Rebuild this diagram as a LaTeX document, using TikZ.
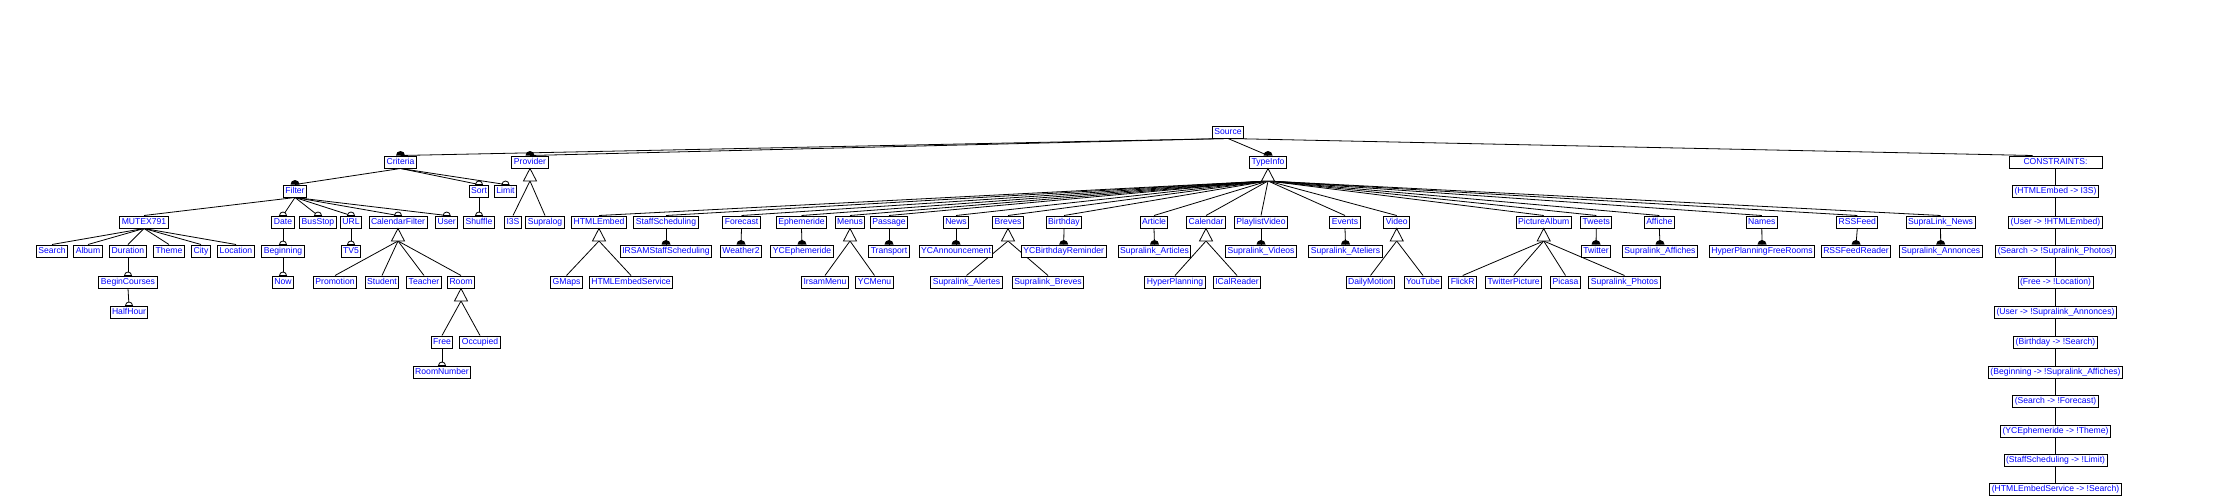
\documentclass[tikz,border=0pt]{standalone}
\usepackage{fontspec}
\setmainfont{Liberation Sans}
\usetikzlibrary{backgrounds}

\begin{document}
\begin{tikzpicture}[
    x=1pt, y=-1pt,
    feat/.style={
      draw, line width=1pt, fill=white, text=blue,
      font=\fontsize{8.6}{10}\selectfont,
      inner xsep=2pt, inner ysep=0pt, minimum height=12pt,
      text height=6.4pt, text depth=1.9pt,
    },
    edge/.style={line width=0.8pt},
    opt/.style={draw=black, fill=white, line width=0.8pt},
    alt/.style={draw=black, fill=white, line width=0.8pt},
  ]
    \useasboundingbox (0,0) rectangle (2218,495);

    % ===== Root and first level =====
    \node[feat] (src) at (1228,132) {Source};
    \node[feat] (crit) at (400.5,162) {Criteria};
    \node[feat] (prov) at (530,162) {Provider};
    \node[feat] (tinfo) at (1268,162) {TypeInfo};
    \node[feat, minimum width=93pt] (cons) at (2055.5,162) {CONSTRAINTS:};

    % ===== Criteria subtree =====
    \node[feat] (filt) at (295,191) {Filter};
    \node[feat] (sort) at (479,191) {Sort};
    \node[feat] (limit) at (505.5,191) {Limit};

    \node[feat] (mutex) at (144,222) {MUTEX791};
    \node[feat] (date) at (283,222) {Date};
    \node[feat] (bus) at (318,222) {BusStop};
    \node[feat] (url) at (351,222) {URL};
    \node[feat] (calf) at (398,222) {CalendarFilter};
    \node[feat] (user) at (446.7,222) {User};
    \node[feat] (shuf) at (479,222) {Shuffle};

    \node[feat] (search) at (52,251) {Search};
    \node[feat] (album) at (88,251) {Album};
    \node[feat] (dur) at (128,251) {Duration};
    \node[feat] (theme) at (169,251) {Theme};
    \node[feat] (city) at (201,251) {City};
    \node[feat] (loc) at (236,251) {Location};
    \node[feat] (begin) at (283,251) {Beginning};
    \node[feat] (tv) at (351,251) {TV5};

    \node[feat] (begc) at (128,282) {BeginCourses};
    \node[feat] (now) at (283,282) {Now};
    \node[feat] (promo) at (335,282) {Promotion};
    \node[feat] (student) at (382,282) {Student};
    \node[feat] (teacher) at (424,282) {Teacher};
    \node[feat] (room) at (461,282) {Room};

    \node[feat] (half) at (129,312) {HalfHour};
    \node[feat] (free) at (442,342) {Free};
    \node[feat] (occ) at (480,342) {Occupied};
    \node[feat] (roomnr) at (442,372) {RoomNumber};

    % ===== Provider subtree =====
    \node[feat] (iss) at (513,222) {I3S};
    \node[feat] (supra) at (545,222) {Supralog};

    % ===== TypeInfo subtree =====
    \node[feat] (html) at (599,222) {HTMLEmbed};
    \node[feat] (staff) at (666,222) {StaffScheduling};
    \node[feat] (fcst) at (741.5,222) {Forecast};
    \node[feat] (ephem) at (801.5,222) {Ephemeride};
    \node[feat] (menus) at (850,222) {Menus};
    \node[feat] (pass) at (889,222) {Passage};
    \node[feat] (news) at (956,222) {News};
    \node[feat] (breves) at (1008,222) {Breves};
    \node[feat] (bday) at (1064,222) {Birthday};
    \node[feat] (art) at (1154,222) {Article};
    \node[feat] (cal) at (1206,222) {Calendar};
    \node[feat] (plv) at (1261,222) {PlaylistVideo};
    \node[feat] (events) at (1345,222) {Events};
    \node[feat] (video) at (1396.7,222) {Video};
    \node[feat] (palb) at (1543.7,222) {PictureAlbum};
    \node[feat] (tweets) at (1596.3,222) {Tweets};
    \node[feat] (aff) at (1659.3,222) {Affiche};
    \node[feat] (names) at (1761.8,222) {Names};
    \node[feat] (rss) at (1857.3,222) {RSSFeed};
    \node[feat] (snews) at (1940.5,222) {SupraLink\_News};

    \node[feat] (irsam) at (666,251) {IRSAMStaffScheduling};
    \node[feat] (weather) at (741,251) {Weather2};
    \node[feat] (yceph) at (802,251) {YCEphemeride};
    \node[feat] (transp) at (889,251) {Transport};
    \node[feat] (ycann) at (956,251) {YCAnnouncement};
    \node[feat] (ycbday) at (1063.7,251) {YCBirthdayReminder};
    \node[feat] (sart) at (1154.5,251) {Supralink\_Articles};
    \node[feat] (svid) at (1261,251) {Supralink\_Videos};
    \node[feat] (satel) at (1345.5,251) {Supralink\_Ateliers};
    \node[feat] (twitter) at (1596,251) {Twitter};
    \node[feat] (saff) at (1660,251) {Supralink\_Affiches};
    \node[feat] (hpfr) at (1762,251) {HyperPlanningFreeRooms};
    \node[feat] (rssr) at (1856,251) {RSSFeedReader};
    \node[feat] (sann) at (1940.7,251) {Supralink\_Annonces};

    \node[feat] (gmaps) at (566.5,282) {GMaps};
    \node[feat] (htmls) at (631,282) {HTMLEmbedService};
    \node[feat] (imenu) at (825,282) {IrsamMenu};
    \node[feat] (ycmenu) at (874.5,282) {YCMenu};
    \node[feat] (salert) at (966.5,282) {Supralink\_Alertes};
    \node[feat] (sbrev) at (1048,282) {Supralink\_Breves};
    \node[feat] (hplan) at (1175,282) {HyperPlanning};
    \node[feat] (ical) at (1237,282) {ICalReader};
    \node[feat] (dmot) at (1370.5,282) {DailyMotion};
    \node[feat] (ytube) at (1423,282) {YouTube};
    \node[feat] (flickr) at (1462.7,282) {FlickR};
    \node[feat] (twpic) at (1513.7,282) {TwitterPicture};
    \node[feat] (picasa) at (1565.5,282) {Picasa};
    \node[feat] (sphot) at (1624.5,282) {Supralink\_Photos};

    % ===== Constraints column =====
    \node[feat] (c1) at (2055.5,191) {(HTMLEmbed -> I3S)};
    \node[feat] (c2) at (2055.5,222) {(User -> !HTMLEmbed)};
    \node[feat] (c3) at (2055.5,251) {(Search -> !Supralink\_Photos)};
    \node[feat] (c4) at (2055.5,282) {(Free -> !Location)};
    \node[feat] (c5) at (2055.5,312) {(User -> !Supralink\_Annonces)};
    \node[feat] (c6) at (2055.5,342) {(Birthday -> !Search)};
    \node[feat] (c7) at (2055.5,372) {(Beginning -> !Supralink\_Affiches)};
    \node[feat] (c8) at (2055.5,401) {(Search -> !Forecast)};
    \node[feat] (c9) at (2055.5,431) {(YCEphemeride -> !Theme)};
    \node[feat] (c10) at (2055.5,460) {(StaffScheduling -> !Limit)};
    \node[feat] (c11) at (2055.5,489) {(HTMLEmbedService -> !Search)};

    % ===== Edges (behind the boxes) =====
    \begin{scope}[on background layer]
      \fill[white] (0,0) rectangle (2218,495);
      % parent bottom -> child top
      \foreach \p/\c in {src/crit, src/prov, src/tinfo,
          crit/filt, crit/sort, crit/limit, sort/shuf,
          filt/mutex, filt/date, filt/bus, filt/url, filt/calf, filt/user,
          mutex/search, mutex/album, mutex/dur, mutex/theme, mutex/city, mutex/loc,
          dur/begc, begc/half, date/begin, begin/now, url/tv, free/roomnr,
          staff/irsam, fcst/weather, ephem/yceph, pass/transp, news/ycann,
          bday/ycbday, art/sart, plv/svid, events/satel, tweets/twitter,
          aff/saff, names/hpfr, rss/rssr, snews/sann,
          cons/c1, c1/c2, c2/c3, c3/c4, c4/c5, c5/c6, c6/c7, c7/c8,
          c8/c9, c9/c10, c10/c11}
        \draw[edge] (\p.south) -- (\c.north);
      \draw[edge] (src.south) -- ([xshift=-23pt]cons.north);
      % alternative groups: from the triangle base
      \foreach \p/\c in {prov/iss, prov/supra,
          calf/promo, calf/student, calf/teacher, calf/room,
          room/free, room/occ,
          tinfo/html, tinfo/staff, tinfo/fcst, tinfo/ephem, tinfo/menus,
          tinfo/pass, tinfo/news, tinfo/breves, tinfo/bday, tinfo/art,
          tinfo/cal, tinfo/plv, tinfo/events, tinfo/video, tinfo/palb,
          tinfo/tweets, tinfo/aff, tinfo/names, tinfo/rss, tinfo/snews,
          html/gmaps, html/htmls, menus/imenu, menus/ycmenu,
          breves/salert, breves/sbrev, cal/hplan, cal/ical,
          video/dmot, video/ytube, palb/flickr, palb/twpic, palb/picasa,
          palb/sphot}
        \draw[edge] ([yshift=-12.5pt]\p.south) -- (\c.north);
    \end{scope}

    % ===== Mandatory (filled) and optional (empty) marks =====
    \foreach \c in {crit, prov, tinfo, filt, irsam, weather, yceph, transp,
        ycann, ycbday, sart, svid, satel, twitter, saff, hpfr, rssr, sann}
      \fill (\c.north) ++(-4.5,0) arc[start angle=180, end angle=0, radius=4.5pt] -- cycle;
    \foreach \c in {sort, limit, shuf, date, bus, url, calf, user,
        begin, now, tv, begc, half, roomnr}
      \filldraw[opt] (\c.north) ++(-3.5,0) arc[start angle=180, end angle=0, radius=3.5pt] -- cycle;

    % ===== Alternative triangles =====
    \foreach \p in {prov, calf, room, tinfo, html, menus, breves, cal, video, palb}
      \filldraw[alt] (\p.south) -- ++(-6.5,12.5) -- ++(13,0) -- cycle;

  \end{tikzpicture}
\end{document}
